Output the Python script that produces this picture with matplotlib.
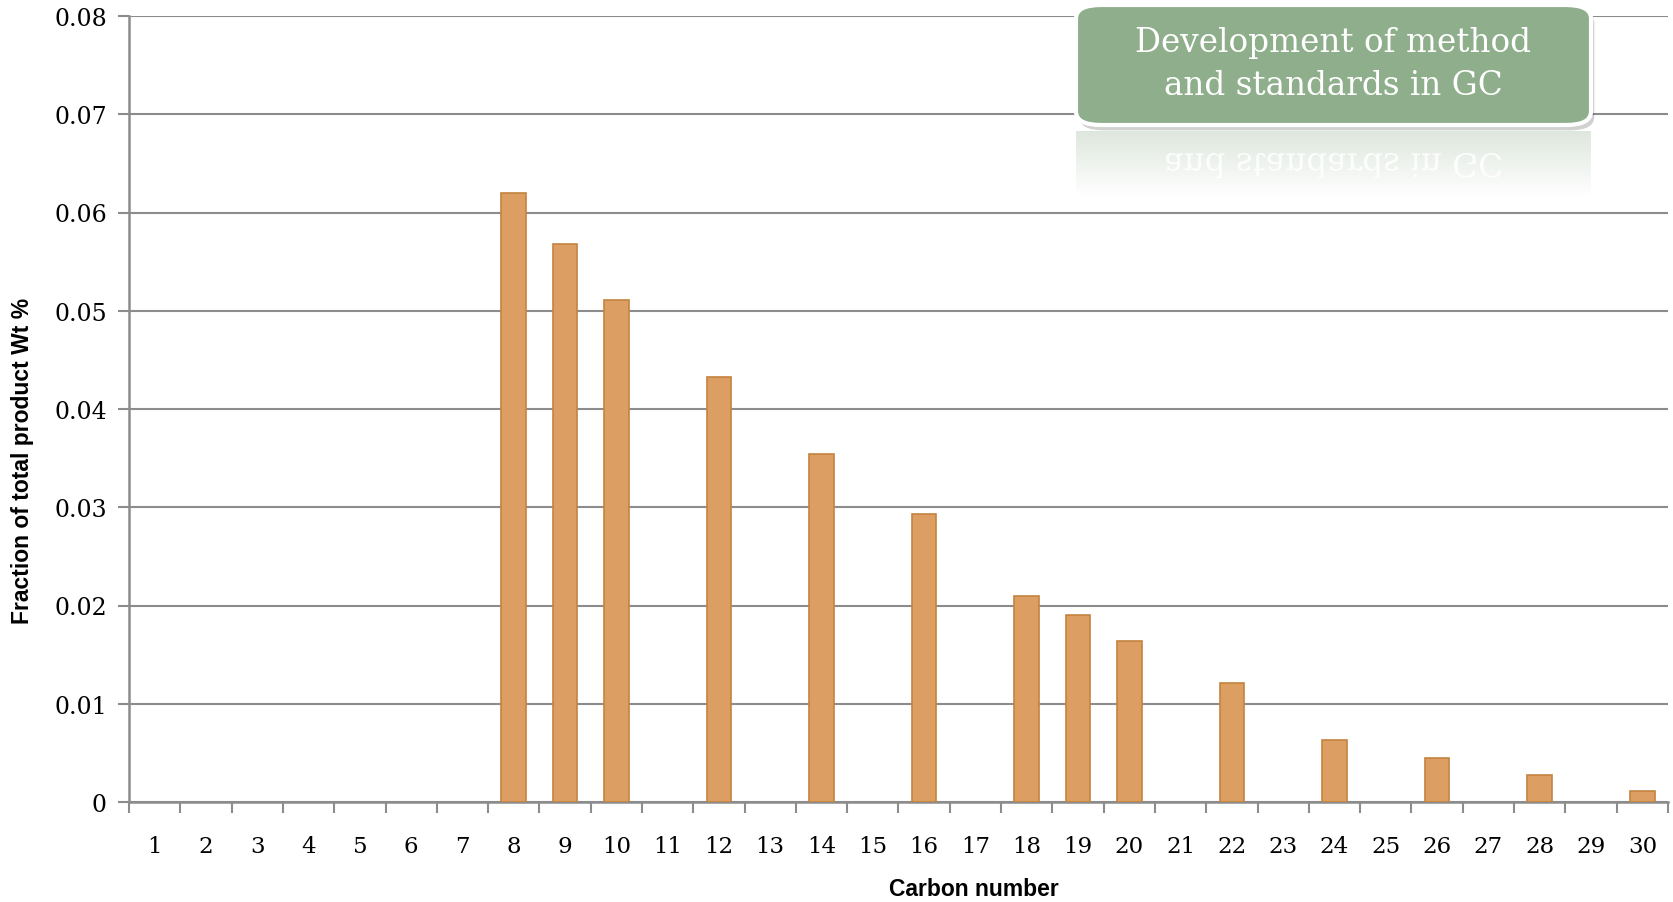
import numpy as np
import matplotlib.pyplot as plt
from matplotlib.patches import FancyBboxPatch, PathPatch
from matplotlib.textpath import TextPath
from matplotlib.font_manager import FontProperties
from matplotlib.transforms import Affine2D

# carbon numbers 1..30 and weight fractions (zero where nothing was found)
carbon = list(range(1, 31))
fraction = [0, 0, 0, 0, 0, 0, 0, 0.0620, 0.0568, 0.0511,
            0, 0.0433, 0, 0.0354, 0, 0.0293, 0, 0.0210, 0.0190, 0.0164,
            0, 0.0121, 0, 0.0063, 0, 0.0045, 0, 0.0027, 0, 0.0011]
y_ticks = [0, 0.01, 0.02, 0.03, 0.04, 0.05, 0.06, 0.07, 0.08]
y_tick_labels = ["0", "0.01", "0.02", "0.03", "0.04", "0.05", "0.06", "0.07", "0.08"]
banner_lines = ["Development of method", "and standards in GC"]

grid_grey = "#8c8c8c"
serif = "DejaVu Serif"
W, H = 1674, 903

fig = plt.figure(figsize=(W / 100, H / 100), dpi=100)
ax = fig.add_axes([129 / W, 100 / H, 1539 / W, 786 / H])

x = np.arange(len(carbon))
edges = ["#c4843f" if v > 0 else "none" for v in fraction]
ax.bar(x, fraction, width=0.48, color="#dc9e62", edgecolor=edges,
       linewidth=1.2, zorder=3)

ax.set_xlim(-0.5, len(carbon) - 0.5)
ax.set_ylim(0, 0.08)
ax.set_yticks(y_ticks)
ax.set_yticklabels(y_tick_labels, family=serif, fontsize=17)
ax.yaxis.grid(True, color=grid_grey, linewidth=1.5, zorder=0)

ax.set_xticks(x)
ax.set_xticklabels([str(c) for c in carbon], family=serif, fontsize=16.5)
ax.set_xticks(np.arange(-0.5, len(carbon)), minor=True)
ax.tick_params(axis="x", which="major", length=0, pad=24)
ax.tick_params(axis="x", which="minor", length=8, width=1.5, color=grid_grey)
ax.tick_params(axis="y", length=8, width=1.5, color=grid_grey, pad=8)

for side in ("top", "right"):
    ax.spines[side].set_visible(False)
for side in ("left", "bottom"):
    ax.spines[side].set_color(grid_grey)
    ax.spines[side].set_linewidth(1.8)

ax.set_xlabel("Carbon number", fontsize=16.5, fontweight="bold",
              family="Liberation Sans")
ax.xaxis.set_label_coords(0.549, -0.096)
ax.set_ylabel("Fraction of total product Wt %", fontsize=16.5,
              fontweight="bold", family="Liberation Sans")
ax.yaxis.set_label_coords(-0.062, 0.435)

# green banner in the upper right corner, with its soft reflection below
bx0, by0, bw, bh = 1076 / W, 1 - 126 / H, 515 / W, 120 / H
shadow = FancyBboxPatch((bx0 + 0.002, by0 - 0.006), bw, bh,
                        boxstyle="round,pad=0,rounding_size=0.015",
                        transform=fig.transFigure, facecolor="#000000",
                        alpha=0.18, edgecolor="none", zorder=5)
fig.patches.append(shadow)
banner = FancyBboxPatch((bx0, by0), bw, bh,
                        boxstyle="round,pad=0,rounding_size=0.015",
                        transform=fig.transFigure, facecolor="#8fae8b",
                        edgecolor="white", linewidth=3, zorder=6)
fig.patches.append(banner)
fig.text(bx0 + bw / 2, 1 - 43 / H, banner_lines[0], ha="center",
         va="center", color="white", family=serif, fontsize=23.5, zorder=7)
fig.text(bx0 + bw / 2, 1 - 86 / H, banner_lines[1], ha="center",
         va="center", color="white", family=serif, fontsize=23.5, zorder=7)

# reflection: fading green strip plus mirrored second line
refl_h = 66 / H
rgba = np.zeros((64, 1, 4))
rgba[..., 0] = 0.56
rgba[..., 1] = 0.68
rgba[..., 2] = 0.55
rgba[..., 3] = np.linspace(0.3, 0, 64).reshape(-1, 1)
ref_ax = fig.add_axes([bx0, by0 - 6 / H - refl_h, bw, refl_h])
ref_ax.imshow(rgba, aspect="auto", extent=(0, 1, 0, 1), origin="upper")
ref_ax.set_xlim(0, 1)
ref_ax.set_ylim(0, 1)
ref_ax.axis("off")

fp = FontProperties(family=serif, size=23.5)
tp = TextPath((0, 0), banner_lines[1], prop=fp)
ext = tp.get_extents()
px_w = bw * W
px_h = refl_h * H
scale = 100 / 72
tr = (Affine2D().translate(-ext.x0 - ext.width / 2, 0)
      .scale(scale / px_w, -scale / px_h)
      .translate(0.5, 0.66))
ref_ax.add_patch(PathPatch(tr.transform_path(tp), facecolor="white",
                           edgecolor="none", alpha=0.85,
                           transform=ref_ax.transAxes))

fig.savefig("out.png", dpi=100)
